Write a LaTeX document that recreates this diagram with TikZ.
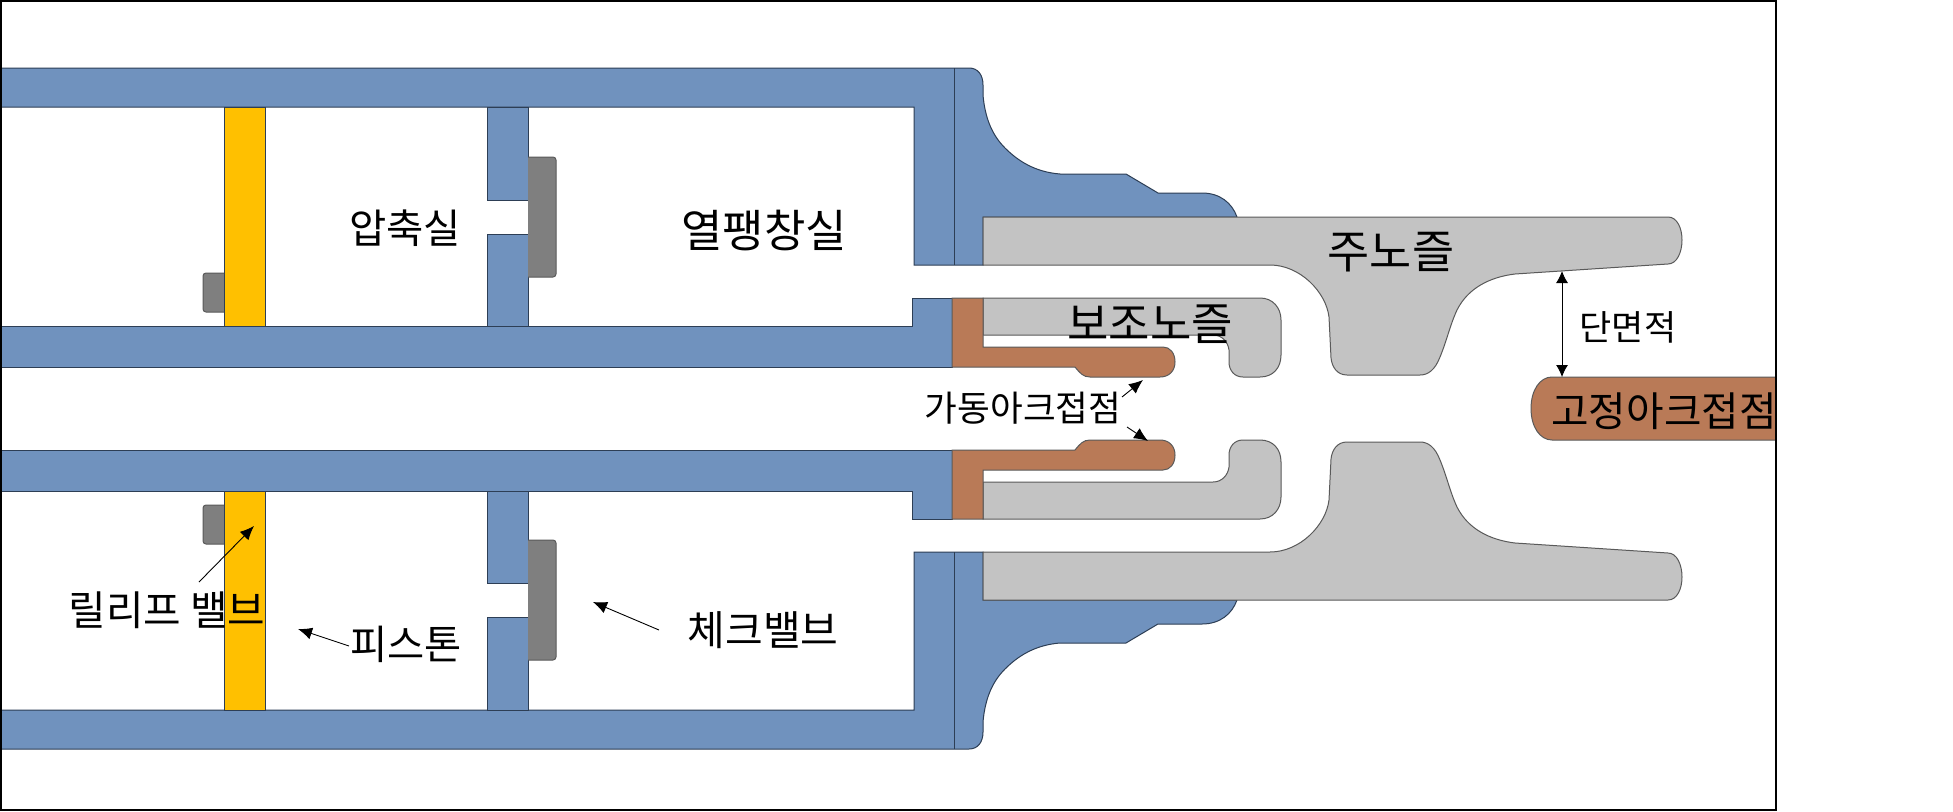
\documentclass[tikz,border=0pt]{standalone}
\usepackage{fontspec}
\setmainfont{Noto Sans CJK KR}
\usetikzlibrary{arrows.meta}
\definecolor{wallblue}{RGB}{112,146,190}
\definecolor{contact}{RGB}{185,122,87}
\definecolor{nozzle}{RGB}{195,195,195}
\definecolor{valvegrey}{RGB}{127,127,127}
\definecolor{pistony}{RGB}{255,192,0}
\definecolor{edgeblue}{RGB}{45,62,85}
\definecolor{edgegrey}{RGB}{90,90,90}
\tikzset{
  wallpart/.style={fill=wallblue,draw=edgeblue,line width=1pt,line join=miter},
  contactpart/.style={fill=contact,draw=edgegrey,line width=1pt},
  nozzlepart/.style={fill=nozzle,draw=edgegrey,line width=1pt},
  valvepart/.style={fill=valvegrey,draw=edgegrey,line width=1pt,rounded corners=3pt},
  pistonpart/.style={fill=pistony,draw=edgeblue,line width=1pt},
  dividerline/.style={draw=edgeblue,line width=1pt},
  leader/.style={draw=black,line width=.9pt,-{Latex[length=14pt,width=12pt]}},
  leadertwo/.style={draw=black,line width=.9pt,{Latex[length=12pt,width=12pt]}-{Latex[length=12pt,width=12pt]}},
  lbl/.style={inner sep=0pt,font=\fontsize{#1}{#1}\selectfont,text=black},
}
\newcommand{\halfassembly}{%
  % outer wall and flange
  \path[wallpart] (0,68) -- (969,68) .. controls (978,68) and (983,75) .. (983,85) -- (983,95)
    .. controls (985,118) and (992,135) .. (1005,148) .. controls (1018,161) and (1035,172) .. (1060,174)
    -- (1126,174) -- (1158,193) -- (1202,193)
    .. controls (1220,193) and (1232,203) .. (1237,217) -- (983,217) -- (983,265) -- (914,265) -- (914,107) -- (0,107) -- cycle;
  \path[dividerline] (954,68) -- (954,265);
  % inner wall
  \path[wallpart] (0,326) -- (912,326) -- (912,298) -- (952,298) -- (952,367) -- (0,367) -- cycle;
  % main nozzle
  \path[nozzlepart] (983,217) -- (1668,217) .. controls (1677,217) and (1682,228) .. (1682,240)
    .. controls (1682,252) and (1677,264) .. (1668,264) -- (1515,274)
    .. controls (1490,277) and (1468,288) .. (1457,310) .. controls (1450,325) and (1447,340) .. (1440,357)
    .. controls (1435,370) and (1428,375) .. (1420,375) -- (1347,375)
    .. controls (1337,375) and (1332,367) .. (1331,358) -- (1329,317)
    .. controls (1326,292) and (1300,265) .. (1270,265) -- (983,265) -- cycle;
  % auxiliary nozzle
  \path[nozzlepart] (983,298) -- (1260,298) .. controls (1273,298) and (1281,308) .. (1281,320) -- (1281,355)
    .. controls (1281,368) and (1273,377) .. (1260,377) -- (1243,377)
    .. controls (1234,377) and (1229,370) .. (1229,362) -- (1229,350)
    .. controls (1228,342) and (1222,335) .. (1213,335) -- (983,335) -- cycle;
  % moving arc contact
  \path[contactpart] (952,298) -- (983,298) -- (983,347) -- (1163,347) .. controls (1170,347) and (1175,353) .. (1175,362)
    .. controls (1175,371) and (1169,377) .. (1160,377) -- (1090,377) .. controls (1083,377) and (1080,373) .. (1075,367) -- (952,367) -- cycle;
  % piston and its relief valve
  \path[valvepart] (224,273) -- (203,273) -- (203,312) -- (224,312);
  \path[pistonpart] (224,107) rectangle (265,326);
  % check valve carrier
  \path[wallpart] (487,107) rectangle (528,200);
  \path[wallpart] (487,234) rectangle (528,326);
  \path[valvepart] (528,157) -- (556,157) -- (556,277) -- (528,277);
}
\begin{document}
\begin{tikzpicture}[x=1pt,y=-1pt]
\useasboundingbox (0,0) rectangle (1953,811);
\fill[white] (0,0) rectangle (1953,811);
\halfassembly
\begin{scope}[shift={(0,817)},yscale=-1]
\halfassembly
\end{scope}
% fixed arc contact
\path[contactpart] (1776,377) -- (1552,377) .. controls (1540,377) and (1531,390) .. (1531,408.5)
  .. controls (1531,427) and (1540,440) .. (1552,440) -- (1776,440);
% frame
\draw[black,line width=2pt] (1,1) rectangle (1776,810);
% labels
\node[lbl=40.5] (compress) at (405,228) {압축실};
\node[lbl=45] (expand) at (764,231) {열팽창실};
\node[lbl=45.8] (mainnoz) at (1391,252) {주노즐};
\node[lbl=45] (auxnoz) at (1150,324) {보조노즐};
\node[lbl=35] (area) at (1628,327) {단면적};
\node[lbl=40.8] (fixedarc) at (1664,411) {고정아크접점};
\node[lbl=35.6] (movearc) at (1023,408) {가동아크접점};
\node[lbl=40.8] (relief) at (167,610) {릴리프 밸브};
\node[lbl=40.4] (piston) at (406,644) {피스톤};
\node[lbl=41] (check) at (763,630) {체크밸브};
% connector ends
\coordinate (areaA) at (1562,271);
\coordinate (areaB) at (1562,377);
\coordinate (moveS1) at (1122,397);
\coordinate (moveT1) at (1143,380);
\coordinate (moveS2) at (1127,427);
\coordinate (moveT2) at (1148,441);
\coordinate (reliefS) at (199,582);
\coordinate (reliefT) at (254,526);
\coordinate (pistonS) at (349,646);
\coordinate (pistonT) at (298,629);
\coordinate (checkS) at (659,630);
\coordinate (checkT) at (593,602);
\draw[leadertwo] (areaA) -- (areaB);
\draw[leader] (moveS1) -- (moveT1);
\draw[leader] (moveS2) -- (moveT2);
\draw[leader] (reliefS) -- (reliefT);
\draw[leader] (pistonS) -- (pistonT);
\draw[leader] (checkS) -- (checkT);
\end{tikzpicture}
\end{document}
